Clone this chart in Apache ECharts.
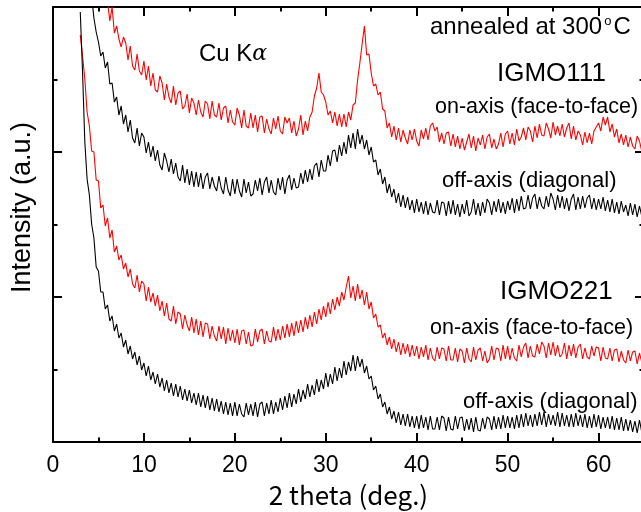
<!DOCTYPE html>
<html><head><meta charset="utf-8">
<script src="https://cdn.jsdelivr.net/npm/echarts@6/dist/echarts.min.js"></script>
<style>html,body{margin:0;padding:0;background:#fff;overflow:hidden}#c{width:641px;height:512px}</style>
</head><body><div id="c"></div>
<script>
// 2 theta sampling step (deg.) and start angle of each scan
const X_STEP = 0.25;
const igmo111OnStart = 5;
const igmo111OffStart = 4;
const igmo221OnStart = 3;
const igmo221OffStart = 3;

// Intensity (a.u.), one row per degree: d, d+0.25, d+0.5, d+0.75
const igmo111On = [
/*5*/ 520,500,480,455,
/*6*/ 440,421,435,409,
/*7*/ 416,403,395,405,
/*8*/ 399,382,396,376,
/*9*/ 372,388,371,367,
/*10*/ 381,362,376,356,
/*11*/ 369,352,350,366,
/*12*/ 359,342,358,345,
/*13*/ 339,356,337,349,
/*14*/ 351,333,336,348,
/*15*/ 329,344,339,327,
/*16*/ 342,330,325,341,
/*17*/ 338,323,341,327,
/*18*/ 325,339,322,334,
/*19*/ 336,319,332,320,
/*20*/ 317,334,327,314,
/*21*/ 332,316,314,329,
/*22*/ 314,327,310,325,
/*23*/ 326,309,323,313,
/*24*/ 308,324,313,326,
/*25*/ 311,308,325,319,
/*26*/ 324,309,321,306,
/*27*/ 313,327,307,321,
/*28*/ 311,325,330,346,
/*29*/ 354,369,350,347,
/*30*/ 340,327,331,319,
/*31*/ 330,316,328,315,
/*32*/ 328,315,330,322,
/*33*/ 337,339,362,379,
/*34*/ 398,416,387,388,
/*35*/ 369,356,358,347,
/*36*/ 350,333,331,314,
/*37*/ 319,305,316,302,
/*38*/ 314,300,312,304,
/*39*/ 298,312,302,313,
/*40*/ 301,296,312,303,
/*41*/ 314,302,316,319,
/*42*/ 311,315,300,309,
/*43*/ 298,309,310,296,
/*44*/ 308,295,306,293,
/*45*/ 304,292,300,308,
/*46*/ 294,306,291,304,
/*47*/ 297,307,293,305,
/*48*/ 308,294,303,293,
/*49*/ 298,309,295,308,
/*50*/ 311,298,309,297,
/*51*/ 313,301,305,314,
/*52*/ 302,315,311,300,
/*53*/ 316,304,318,307,
/*54*/ 306,319,313,304,
/*55*/ 320,307,316,306,
/*56*/ 318,305,314,319,
/*57*/ 303,316,302,311,
/*58*/ 307,297,310,299,
/*59*/ 309,298,311,315,
/*60*/ 319,311,325,317,
/*61*/ 325,310,318,305,
/*62*/ 313,299,308,297,
/*63*/ 307,295,305,296,
/*64*/ 293,306,301,291,
/*65*/ 297
];

const igmo111Off = [
/*4*/ 470,446,424,410,
/*5*/ 400,386,390,374,
/*6*/ 380,358,359,340,
/*7*/ 345,327,336,318,
/*8*/ 327,310,322,304,
/*9*/ 299,314,296,309,
/*10*/ 305,289,300,285,
/*11*/ 296,281,292,277,
/*12*/ 272,289,281,270,
/*13*/ 283,268,279,265,
/*14*/ 261,277,259,273,
/*15*/ 257,271,255,270,
/*16*/ 255,269,253,265,
/*17*/ 269,253,265,256,
/*18*/ 251,266,254,248,
/*19*/ 265,252,246,263,
/*20*/ 248,263,251,245,
/*21*/ 263,249,260,246,
/*22*/ 248,262,251,264,
/*23*/ 247,260,265,249,
/*24*/ 262,250,247,264,
/*25*/ 252,265,248,262,
/*26*/ 267,252,264,254,
/*27*/ 255,269,258,272,
/*28*/ 260,273,262,276,
/*29*/ 279,265,282,271,
/*30*/ 271,287,276,291,
/*31*/ 292,280,297,286,
/*32*/ 300,288,307,294,
/*33*/ 309,293,313,298,
/*34*/ 307,293,302,287,
/*35*/ 295,280,282,267,
/*36*/ 273,258,265,249,
/*37*/ 258,245,253,239,
/*38*/ 249,235,247,234,
/*39*/ 245,232,242,229,
/*40*/ 243,230,240,228,
/*41*/ 241,227,239,230,
/*42*/ 229,242,227,240,
/*43*/ 239,226,241,228,
/*44*/ 242,227,238,225,
/*45*/ 238,228,242,226,
/*46*/ 230,243,227,239,
/*47*/ 226,240,229,243,
/*48*/ 239,227,241,230,
/*49*/ 243,229,240,228,
/*50*/ 241,232,244,229,
/*51*/ 243,231,246,233,
/*52*/ 234,247,233,244,
/*53*/ 248,233,245,236,
/*54*/ 233,246,235,249,
/*55*/ 243,232,247,234,
/*56*/ 246,233,244,231,
/*57*/ 243,248,232,245,
/*58*/ 233,246,234,244,
/*59*/ 247,233,244,232,
/*60*/ 243,233,245,231,
/*61*/ 242,230,243,229,
/*62*/ 240,228,241,230,
/*63*/ 237,226,239,227,
/*64*/ 238,225,236,226,
/*65*/ 231
];

const igmo221On = [
/*3*/ 407,386,363,330,
/*4*/ 316,291,290,262,
/*5*/ 261,234,237,216,
/*6*/ 224,204,212,190,
/*7*/ 196,182,187,173,
/*8*/ 179,165,173,158,
/*9*/ 154,167,150,161,
/*10*/ 158,141,155,140,
/*11*/ 149,136,147,131,
/*12*/ 141,126,139,123,
/*13*/ 121,136,118,130,
/*14*/ 128,113,127,117,
/*15*/ 111,125,109,123,
/*16*/ 107,121,105,119,
/*17*/ 118,103,116,106,
/*18*/ 101,116,103,115,
/*19*/ 98,114,101,112,
/*20*/ 99,113,97,111,
/*21*/ 112,98,110,96,
/*22*/ 97,113,100,111,
/*23*/ 113,98,111,101,
/*24*/ 100,115,101,113,
/*25*/ 102,116,104,118,
/*26*/ 105,119,106,121,
/*27*/ 109,122,110,125,
/*28*/ 113,127,115,130,
/*29*/ 118,133,122,136,
/*30*/ 125,140,128,143,
/*31*/ 132,145,136,150,
/*32*/ 142,155,166,144,
/*33*/ 156,141,158,143,
/*34*/ 152,137,150,133,
/*35*/ 140,124,128,115,
/*36*/ 117,104,109,97,
/*37*/ 105,93,103,90,
/*38*/ 100,87,99,88,
/*39*/ 98,85,97,86,
/*40*/ 96,83,95,85,
/*41*/ 97,82,94,84,
/*42*/ 81,95,83,94,
/*43*/ 93,81,96,82,
/*44*/ 82,94,80,93,
/*45*/ 91,79,94,83,
/*46*/ 80,95,82,92,
/*47*/ 94,81,91,79,
/*48*/ 83,96,82,94,
/*49*/ 93,81,97,83,
/*50*/ 96,82,94,84,
/*51*/ 81,97,85,95,
/*52*/ 99,84,96,86,
/*53*/ 85,98,88,100,
/*54*/ 96,84,99,87,
/*55*/ 100,86,97,85,
/*56*/ 88,99,83,97,
/*57*/ 86,98,84,95,
/*58*/ 98,83,94,85,
/*59*/ 83,96,86,95,
/*60*/ 94,81,95,84,
/*61*/ 83,94,81,92,
/*62*/ 93,80,91,82,
/*63*/ 79,92,81,90,
/*64*/ 91,78,89,80,
/*65*/ 84
];

const igmo221Off = [
/*3*/ 430,370,300,263,
/*4*/ 247,218,204,175,
/*5*/ 171,150,150,133,
/*6*/ 137,121,126,111,
/*7*/ 118,104,109,95,
/*8*/ 102,88,96,83,
/*9*/ 90,77,86,72,
/*10*/ 79,66,76,62,
/*11*/ 70,58,68,55,
/*12*/ 64,51,62,49,
/*13*/ 59,46,58,45,
/*14*/ 56,42,53,41,
/*15*/ 52,39,49,37,
/*16*/ 49,35,47,34,
/*17*/ 46,32,44,31,
/*18*/ 43,30,41,28,
/*19*/ 40,27,39,26,
/*20*/ 40,26,38,28,
/*21*/ 25,39,27,38,
/*22*/ 26,40,25,38,
/*23*/ 40,26,39,28,
/*24*/ 42,28,40,30,
/*25*/ 44,32,46,34,
/*26*/ 49,35,48,38,
/*27*/ 53,40,52,43,
/*28*/ 58,45,57,47,
/*29*/ 63,50,62,53,
/*30*/ 69,55,68,58,
/*31*/ 75,61,74,64,
/*32*/ 81,67,80,71,
/*33*/ 87,71,86,75,
/*34*/ 83,69,76,63,
/*35*/ 66,52,56,43,
/*36*/ 48,35,40,28,
/*37*/ 35,23,31,19,
/*38*/ 30,17,28,16,
/*39*/ 28,15,26,14,
/*40*/ 26,13,27,14,
/*41*/ 25,12,26,13,
/*42*/ 13,25,12,26,
/*43*/ 24,11,25,13,
/*44*/ 12,26,13,24,
/*45*/ 25,11,23,12,
/*46*/ 24,10,25,12,
/*47*/ 11,24,13,25,
/*48*/ 23,12,26,13,
/*49*/ 25,13,27,14,
/*50*/ 26,14,25,13,
/*51*/ 27,14,28,15,
/*52*/ 29,16,27,15,
/*53*/ 28,16,30,17,
/*54*/ 30,15,28,17,
/*55*/ 27,16,30,15,
/*56*/ 29,16,27,15,
/*57*/ 28,15,29,16,
/*58*/ 27,15,28,14,
/*59*/ 26,14,28,15,
/*60*/ 27,13,25,14,
/*61*/ 25,13,26,12,
/*62*/ 24,12,25,11,
/*63*/ 23,11,22,10,
/*64*/ 21,9,22,10,
/*65*/ 15
];

const xTickLabels = ['0','10','20','30','40','50','60'];
const seriesNames = ['IGMO111 on-axis (face-to-face)','IGMO111 off-axis (diagonal)','IGMO221 on-axis (face-to-face)','IGMO221 off-axis (diagonal)'];

function pairs(start, vals) { return vals.map((v, i) => [start + i * X_STEP, v]); }

const chart = echarts.init(document.getElementById('c'), null, {renderer: 'canvas'});
const SANS = '"Liberation Sans", Arial, sans-serif';
const axisCommon = {
  axisLine: {show: true, onZero: false, lineStyle: {color: '#000', width: 2}},
  axisTick: {show: true, inside: true, length: 9, lineStyle: {color: '#000', width: 2}},
  minorTick: {show: true, splitNumber: 2, length: 4.5, lineStyle: {color: '#000', width: 2}},
  splitLine: {show: false}
};
const lineSeries = (name, data, color) => ({
  name, type: 'line', data, showSymbol: false, symbol: 'none', clip: true,
  lineStyle: {color, width: 1.1}, itemStyle: {color}, animation: false
});
const txt = (x, y, text, size) => ({
  type: 'text', x, y,
  style: {text, fill: '#000', font: size + 'px ' + SANS, textAlign: 'left', textVerticalAlign: 'middle'}
});

chart.setOption({
  animation: false,
  backgroundColor: '#fff',
  grid: {left: 53, top: 7, width: 591, height: 435, containLabel: false, outerBoundsMode: 'none'},
  xAxis: [
    Object.assign({
      type: 'value', min: 0, max: 65, interval: 10, position: 'bottom',
      name: '2 theta (deg.)', nameLocation: 'middle', nameGap: 38,
      nameTextStyle: {fontFamily: '"Noto Sans CJK JP", sans-serif', fontSize: 26, color: '#000'},
      axisLabel: {fontFamily: SANS, fontSize: 23, color: '#000', margin: 12,
        formatter: v => xTickLabels[v / 10] !== undefined ? xTickLabels[v / 10] : ''}
    }, axisCommon),
    Object.assign({
      type: 'value', min: 0, max: 65, interval: 10, position: 'top', axisLabel: {show: false}
    }, axisCommon)
  ],
  yAxis: [
    Object.assign({
      type: 'value', min: 0, max: 435, interval: 145, position: 'left',
      name: 'Intensity (a.u.)', nameLocation: 'middle', nameGap: 17,
      nameTextStyle: {fontFamily: SANS, fontSize: 27, color: '#000', padding: [0, 0, 0, 34]},
      axisLabel: {show: false}
    }, axisCommon),
    Object.assign({
      type: 'value', min: 0, max: 435, interval: 145, position: 'right', axisLabel: {show: false}
    }, axisCommon)
  ],
  series: [
    lineSeries(seriesNames[0], pairs(igmo111OnStart, igmo111On), '#ff0000'),
    lineSeries(seriesNames[1], pairs(igmo111OffStart, igmo111Off), '#000000'),
    lineSeries(seriesNames[2], pairs(igmo221OnStart, igmo221On), '#ff0000'),
    lineSeries(seriesNames[3], pairs(igmo221OffStart, igmo221Off), '#000000')
  ],
  graphic: [
    {type: 'text', x: 430, y: 27, style: {
      text: '{a|annealed at 300}{s|o}{a|C}', textVerticalAlign: 'middle',
      rich: {a: {fontFamily: SANS, fontSize: 24, fill: '#000'},
             s: {fontFamily: SANS, fontSize: 13, fill: '#000', verticalAlign: 'top', padding: [0, 2, 0, 2]}}}},
    {type: 'text', x: 199, y: 54, style: {
      text: '{a|Cu K}{b|α}', textVerticalAlign: 'middle',
      rich: {a: {fontFamily: SANS, fontSize: 24, fill: '#000'}, b: {fontFamily: '"DejaVu Serif", serif', fontStyle: 'italic', fontSize: 22, fill: '#000'}}}},
    txt(497, 74, 'IGMO111', 26),
    txt(435, 107, 'on-axis (face-to-face)', 21.5),
    txt(442, 181, 'off-axis (diagonal)', 22),
    txt(500, 292, 'IGMO221', 26),
    txt(430, 328, 'on-axis (face-to-face)', 21.5),
    txt(463, 402, 'off-axis (diagonal)', 22)
  ]
});
</script></body></html>
